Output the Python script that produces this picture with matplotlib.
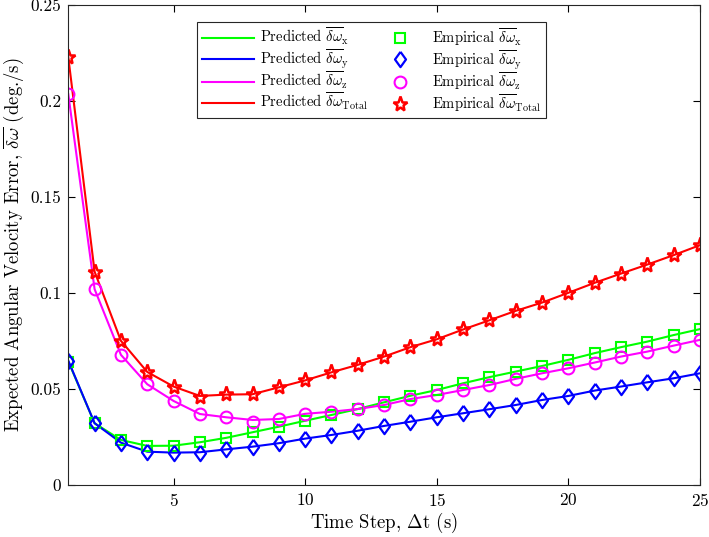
from matplotlib import pyplot as plt
import numpy as np

plt.rcParams['font.family'] = 'cmr10'
plt.rcParams['mathtext.fontset'] = 'cm'
plt.rcParams['axes.formatter.use_mathtext'] = True
plt.rcParams['font.size'] = 12

dt = np.arange(1, 26)

# predicted (lines)
pred_x = [0.0645, 0.0323, 0.0236, 0.0205, 0.0206, 0.0224, 0.0247, 0.0276, 0.0305, 0.0336,
          0.0366, 0.0397, 0.0432, 0.0466, 0.0496, 0.0531, 0.0563, 0.0592, 0.0621, 0.0653,
          0.0688, 0.0719, 0.0748, 0.0782, 0.0813]
pred_y = [0.0649, 0.0323, 0.0222, 0.0175, 0.0170, 0.0172, 0.0187, 0.0201, 0.0219, 0.0243,
          0.0262, 0.0284, 0.0309, 0.0331, 0.0354, 0.0375, 0.0396, 0.0418, 0.0444, 0.0465,
          0.0493, 0.0514, 0.0536, 0.0557, 0.0583]
pred_z = [0.2036, 0.1021, 0.0679, 0.0526, 0.0439, 0.0371, 0.0354, 0.0340, 0.0345, 0.0372,
          0.0383, 0.0397, 0.0418, 0.0449, 0.0470, 0.0496, 0.0522, 0.0554, 0.0583, 0.0609,
          0.0639, 0.0670, 0.0696, 0.0727, 0.0757]
pred_tot = [0.2229, 0.1112, 0.0752, 0.0590, 0.0514, 0.0465, 0.0472, 0.0474, 0.0510, 0.0546,
            0.0588, 0.0627, 0.0670, 0.0719, 0.0760, 0.0811, 0.0859, 0.0908, 0.0951, 0.1002,
            0.1054, 0.1102, 0.1149, 0.1198, 0.1250]

# empirical (markers)
emp_x = [0.0642, 0.0323, 0.0236, 0.0205, 0.0206, 0.0224, 0.0245, 0.0276, 0.0305, 0.0336,
         0.0366, 0.0397, 0.0432, 0.0467, 0.0496, 0.0531, 0.0563, 0.0592, 0.0621, 0.0653,
         0.0688, 0.0719, 0.0748, 0.0783, 0.0813]
emp_y = [0.0649, 0.0323, 0.0222, 0.0175, 0.0170, 0.0170, 0.0189, 0.0201, 0.0219, 0.0243,
         0.0262, 0.0284, 0.0309, 0.0331, 0.0354, 0.0375, 0.0396, 0.0418, 0.0444, 0.0465,
         0.0493, 0.0514, 0.0536, 0.0557, 0.0583]
emp_z = [0.2036, 0.1021, 0.0679, 0.0526, 0.0439, 0.0371, 0.0354, 0.0328, 0.0345, 0.0372,
         0.0383, 0.0397, 0.0418, 0.0449, 0.0470, 0.0496, 0.0522, 0.0554, 0.0583, 0.0609,
         0.0639, 0.0670, 0.0696, 0.0727, 0.0757]
emp_tot = [0.2229, 0.1112, 0.0752, 0.0590, 0.0512, 0.0462, 0.0474, 0.0474, 0.0510, 0.0548,
           0.0588, 0.0627, 0.0670, 0.0719, 0.0760, 0.0811, 0.0859, 0.0908, 0.0951, 0.1002,
           0.1054, 0.1102, 0.1149, 0.1198, 0.1250]

# matlab-ish diamond (taller than wide)
diamond = [(0, 1), (0.72, 0), (0, -1), (-0.72, 0), (0, 1)]

fig = plt.figure(figsize=(7.09, 5.37), dpi=100)
ax = fig.add_axes([0.0963, 0.0963, 0.8910, 0.8944])

lw = 1.5
l1, = ax.plot(dt, pred_x, color=(0, 1, 0), lw=lw)
l2, = ax.plot(dt, pred_y, color=(0, 0, 1), lw=lw)
l3, = ax.plot(dt, pred_z, color=(1, 0, 1), lw=lw)
l4, = ax.plot(dt, pred_tot, color=(1, 0, 0), lw=lw)
m1, = ax.plot(dt, emp_x, ls='none', marker='s', ms=6.5, mfc='none', mec=(0, 1, 0), mew=1.5)
m2, = ax.plot(dt, emp_y, ls='none', marker=diamond, ms=11, mfc='none', mec=(0, 0, 1), mew=1.6)
m3, = ax.plot(dt, emp_z, ls='none', marker='o', ms=8.5, mfc='none', mec=(1, 0, 1), mew=1.5)
m4, = ax.plot(dt, emp_tot, ls='none', marker='*', ms=11, mfc='none', mec=(1, 0, 0), mew=1.8)

ax.set_xlim(1, 25)
ax.set_ylim(0, 0.25)
ax.set_xticks([5, 10, 15, 20, 25])
ax.set_yticks([0, 0.05, 0.1, 0.15, 0.2, 0.25])
ax.set_yticklabels(['0', '0.05', '0.1', '0.15', '0.2', '0.25'])
ax.tick_params(direction='in', top=True, right=True, length=5, labelsize=12.5, pad=5)
for s in ax.spines.values():
    s.set_color('#262626')

ax.set_xlabel(r'Time Step, $\Delta$t (s)', fontsize=13.5, labelpad=1)
ax.set_ylabel(r'Expected Angular Velocity Error, $\overline{\delta\omega}$ (deg./s)', fontsize=13.5,
              labelpad=3)

labels = [r'Predicted $\overline{\delta\omega}_{\mathrm{x}}$',
          r'Predicted $\overline{\delta\omega}_{\mathrm{y}}$',
          r'Predicted $\overline{\delta\omega}_{\mathrm{z}}$',
          r'Predicted $\overline{\delta\omega}_{\mathrm{Total}}$',
          r'Empirical $\overline{\delta\omega}_{\mathrm{x}}$',
          r'Empirical $\overline{\delta\omega}_{\mathrm{y}}$',
          r'Empirical $\overline{\delta\omega}_{\mathrm{z}}$',
          r'Empirical $\overline{\delta\omega}_{\mathrm{Total}}$']
leg = ax.legend([l1, l2, l3, l4, m1, m2, m3, m4], labels, ncol=2, loc='upper left',
                bbox_to_anchor=(0.204, 0.965), fancybox=False, framealpha=1,
                edgecolor='#262626', fontsize=10.5, handlelength=3.6, labelspacing=0.0,
                handletextpad=0.4, columnspacing=0.4, borderpad=0.3, borderaxespad=0)
leg.get_frame().set_linewidth(0.8)

plt.savefig('out.png')
